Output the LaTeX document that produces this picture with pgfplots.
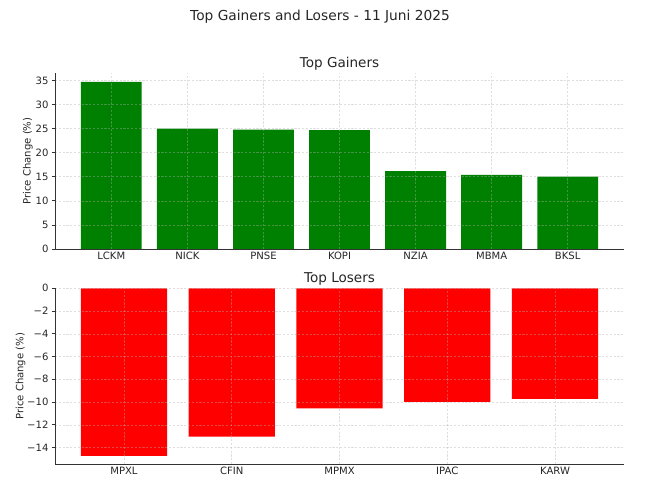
\documentclass[border=0pt]{standalone}
\usepackage{pgfplots}
\pgfplotsset{compat=1.18}
\usepackage{fontspec}
\setmainfont{DejaVu Sans}
\definecolor{mgreen}{HTML}{008000}
\definecolor{mred}{HTML}{FF0000}
\definecolor{txt}{HTML}{262626}
\definecolor{spine}{HTML}{333333}
\definecolor{gridc}{HTML}{B0B0B0}
\begin{document}
\begin{tikzpicture}[x=1bp,y=1bp]
\useasboundingbox (0,0) rectangle (657,484);
\pgfplotsset{
  mystyle/.style={
    scale only axis, width=569bp, height=176bp,
    axis x line*=bottom, axis y line*=left,
    axis line style={spine, line width=0.8bp},
    tick align=outside, major tick length=3bp,
    tick style={spine, line width=0.8bp},
    xtick style={draw=none},
    grid=major, grid style={dash pattern=on 2.2bp off 1.6bp, gridc, opacity=0.4, line width=0.6bp},
    axis on top,
    ybar, bar width=0.8,
    /pgf/number format/assume math mode=true,
    tick label style={font=\fontsize{10.1}{12}\selectfont, text=txt},
    xticklabel style={yshift=3.7bp},
    label style={font=\fontsize{10.1}{12}\selectfont, text=txt},
    title style={font=\fontsize{13.6}{15}\selectfont, text=txt, anchor=base, at={(axis description cs:0.5,1)}, yshift=-0.6bp},
    xtick=data,
  }
}
\begin{axis}[mystyle, at={(55bp,235bp)}, anchor=south west,
  xmin=-0.74, xmax=6.74, ymin=0, ymax=36.54,
  xticklabels={LCKM,NICK,PNSE,KOPI,NZIA,MBMA,BKSL},
  ytick={0,5,...,35},
  title={Top Gainers},
  ylabel={Price Change (\%)},
  ylabel style={at={(axis description cs:-0.0475,0.5)}, anchor=center},
]
\addplot[fill=mgreen, draw=none] coordinates {(0,34.7) (1,25.0) (2,24.8) (3,24.7) (4,16.15) (5,15.4) (6,15.0)};
\end{axis}
\begin{axis}[mystyle, at={(55bp,19.7bp)}, anchor=south west,
  xmin=-0.64, xmax=4.64, ymin=-15.47, ymax=0,
  xticklabels={MPXL,CFIN,MPMX,IPAC,KARW},
  ytick={-14,-12,-10,-8,-6,-4,-2,0},
  yticklabels={−14,−12,−10,−8,−6,−4,−2,0},
  title={Top Losers},
  ylabel={Price Change (\%)},
  ylabel style={at={(axis description cs:-0.0603,0.5)}, anchor=center},
]
\addplot[fill=mred, draw=none] coordinates {(0,-14.73) (1,-13.04) (2,-10.55) (3,-9.99) (4,-9.73)};
\end{axis}
\node[font=\fontsize{13.8}{15}\selectfont, text=txt, anchor=base] at (320,463.4) {Top Gainers and Losers - 11 Juni 2025};
\end{tikzpicture}
\end{document}
